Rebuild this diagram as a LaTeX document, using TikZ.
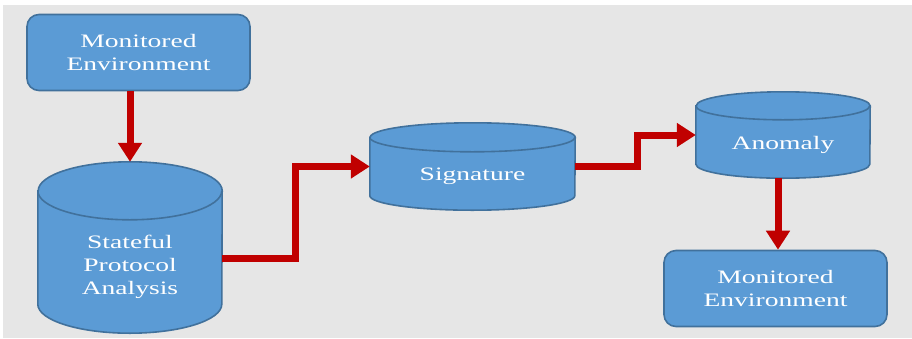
\documentclass[tikz,border=0pt]{standalone}
\usepackage{fontspec}
\setmainfont{Liberation Serif}[FakeStretch=1.45]
\usetikzlibrary{arrows.meta}

\definecolor{boxblue}{HTML}{5B9BD5}
\definecolor{boxline}{HTML}{41719C}
\definecolor{arrowred}{HTML}{C00000}
\definecolor{backgray}{HTML}{E6E6E6}

\tikzset{
  envbox/.style={draw=boxline, fill=boxblue, line width=1.6pt, rounded corners=12pt,
    minimum width=223pt, minimum height=76pt, inner sep=0pt},
  storearea/.style={inner sep=0pt},
  storeline/.style={draw=boxline, fill=boxblue, line width=1.6pt},
  boxtext/.style={text=white, align=center, font=\fontsize{19}{23}\selectfont},
  flow/.style={draw=arrowred, line width=7pt, -{Triangle[length=19pt,width=23pt]}},
}

\begin{document}
\begin{tikzpicture}[x=1pt,y=-1pt]

    % Background
    \fill[white] (0,0) rectangle (912,338);
    \fill[backgray] (3,5) rectangle (912,338);
    \useasboundingbox (0,0) rectangle (912,338);

    % Monitored environment (top)
    \node[envbox, boxtext] (mon1) at (138.5,52.5) {Monitored\\Environment};

    % Stores (area only)
    \node[storearea, minimum width=184pt, minimum height=171pt] (spa) at (130,247.5) {};
    \node[storearea, minimum width=205pt, minimum height=87pt] (sig) at (472.5,166.5) {};
    \node[storearea, minimum width=174pt, minimum height=86pt] (ano) at (783,135) {};

    % Cylinders
    \foreach \n/\w/\r in {spa/92/29, sig/102.5/14.5, ano/87/14} {
        \path[storeline] ([yshift=-\r pt]\n.north west) -- ([yshift=\r pt]\n.south west)
            arc[start angle=180, end angle=360, x radius=\w pt, y radius=\r pt]
            -- ([yshift=-\r pt]\n.north east)
            arc[start angle=0, end angle=180, x radius=\w pt, y radius=\r pt] -- cycle;
        \draw[boxline, line width=1.6pt] ([yshift=-\r pt]\n.north west)
            arc[start angle=180, end angle=360, x radius=\w pt, y radius=\r pt];
    }

    % Store labels
    \node[boxtext] (spatxt) at (130,267) {Stateful\\Protocol\\Analysis};
    \node[boxtext] (sigtxt) at (472.5,176) {Signature};
    \node[boxtext] (anotxt) at (783,145) {Anomaly};

    % Monitored environment (bottom)
    \node[envbox, boxtext] (mon2) at (775.5,288.5) {Monitored\\Environment};

    % Bends
    \coordinate (bend1) at (295,0);
    \coordinate (bend2) at (637,0);

    % Flows
    \draw[flow] (spa.north |- mon1.south) -- (spa.north);
    \draw[flow] ([yshift=-10.5pt]spa.east) -- ([yshift=-10.5pt]spa.east -| bend1)
                -- (bend1 |- sig.west) -- (sig.west);
    \draw[flow] (sig.east) -- (sig.east -| bend2) -- (bend2 |- ano.west) -- (ano.west);
    \draw[flow] ([xshift=-5pt]ano.south) -- ([xshift=-5pt]ano.south |- mon2.north);

\end{tikzpicture}
\end{document}
